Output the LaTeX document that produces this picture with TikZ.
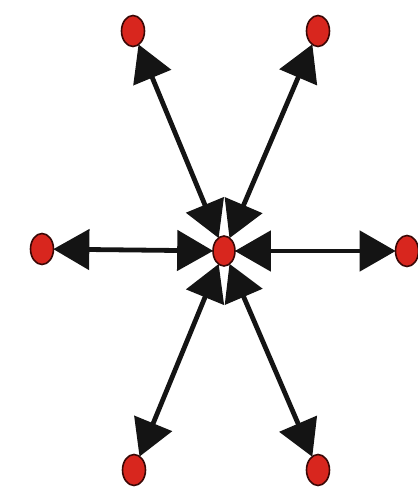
\documentclass[tikz,border=0pt]{standalone}
\usetikzlibrary{arrows.meta,shapes.geometric}
\definecolor{dotred}{HTML}{D8261E}
\definecolor{dotrim}{HTML}{3A0806}
\definecolor{ink}{HTML}{141414}
\pgfdeclarelayer{bg}
\pgfsetlayers{bg,main}
\begin{document}
\begin{tikzpicture}[x=1pt,y=-1pt,
  dot/.style={ellipse,draw=dotrim,line width=1.6pt,fill=dotred,inner sep=0pt,minimum width=23pt,minimum height=31pt},
  cdot/.style={dot,minimum width=22pt,minimum height=30pt},
  link/.style={line width=4.8pt,ink,{Triangle[length=36pt,width=40pt]}-{Triangle[length=36pt,width=40pt]},shorten <=-1pt,shorten >=-1pt}]
\useasboundingbox (0,0) rectangle (418,499);
\path (224,251) node[cdot] (c) {};
\path (133,31) node[dot] (tl) {};
\path (318,31) node[dot] (tr) {};
\path (42,249) node[dot] (l) {};
\path (407,251) node[dot] (r) {};
\path (134,470) node[dot] (bl) {};
\path (318,470) node[dot] (br) {};
\begin{pgfonlayer}{bg}
\draw[link] (tl) -- (c);
\draw[link] (tr) -- (c);
\draw[link] (l) -- (c);
\draw[link] (r) -- (c);
\draw[link] (bl) -- (c);
\draw[link] (br) -- (c);
\end{pgfonlayer}
\end{tikzpicture}
\end{document}
